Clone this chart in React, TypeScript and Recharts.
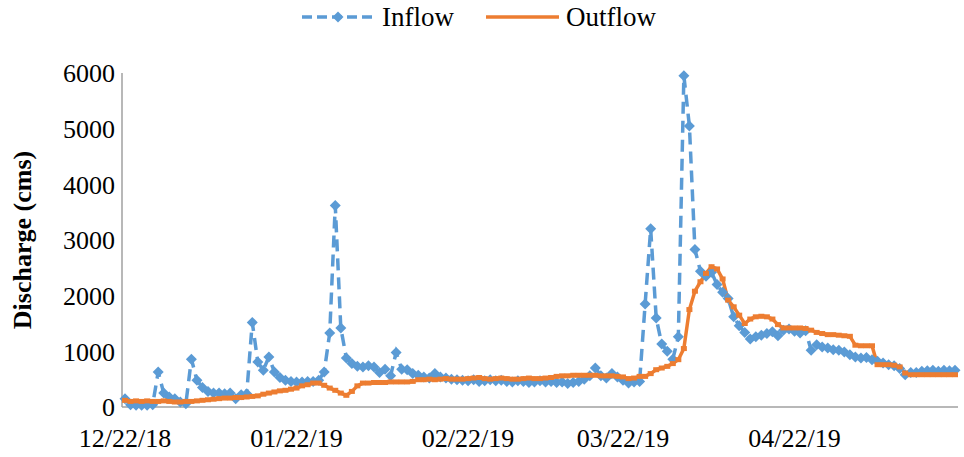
import { Line, LineChart, XAxis, YAxis, Legend } from "recharts";

const FONT = '"Liberation Serif", "Times New Roman", serif';
const BLUE = "#5B9BD5";
const ORANGE = "#ED7D31";
const AXIS_GREY = "#A0A0A0";

// daily discharge (cms), starting 12/22/18
const INFLOW = [
  150, 40, 30, 30, 30, 40, 630, 250, 180, 150, 90, 60, 860, 480, 350, 280, 250, 250, 240, 250,
  150, 220, 240, 1520, 810, 660, 900, 630, 530, 480, 460, 450, 450, 460, 460, 480, 630, 1330, 3620, 1420,
  880, 780, 730, 720, 740, 720, 620, 680, 560, 980, 680, 670, 600, 570, 540, 520, 600, 540, 520, 500,
  490, 480, 470, 490, 460, 470, 490, 470, 480, 460, 450, 470, 460, 440, 450, 470, 450, 460, 440, 450,
  420, 440, 460, 500, 560, 700, 560, 520, 600, 540, 480, 430, 450, 460, 1850, 3200, 1600, 1130, 1000, 860,
  1260, 5950, 5050, 2830, 2440, 2350, 2420, 2200, 2060, 1950, 1620, 1460, 1340, 1220, 1260, 1290, 1320, 1350, 1280, 1380,
  1400, 1360, 1330, 1370, 1020, 1120, 1080, 1060, 1030, 1020, 990, 940, 900, 880, 890, 850, 820, 790, 760, 740,
  690, 580, 620, 620, 640, 650, 660, 640, 660, 650, 660,
];

const OUTFLOW = [
  120, 100, 110, 100, 110, 100, 100, 110, 100, 90, 90, 100, 100, 110, 120, 130, 140, 150, 160, 160,
  170, 170, 180, 190, 200, 230, 250, 270, 290, 300, 320, 340, 380, 400, 430, 430, 390, 340, 300, 250,
  210, 280, 380, 430, 430, 440, 440, 440, 450, 450, 450, 450, 460, 490, 490, 500, 490, 500, 510, 500,
  500, 500, 510, 520, 530, 510, 500, 510, 520, 510, 500, 500, 510, 520, 510, 510, 520, 530, 550, 560,
  560, 570, 570, 570, 570, 570, 560, 560, 560, 550, 540, 510, 520, 550, 550, 600, 670, 700, 730, 780,
  850, 1050, 1750, 2080, 2250, 2400, 2520, 2480, 2300, 1920, 1800, 1650, 1500, 1580, 1620, 1630, 1620, 1580, 1480, 1420,
  1420, 1420, 1420, 1410, 1380, 1340, 1320, 1300, 1300, 1290, 1280, 1270, 1110, 1100, 1100, 1100, 760, 760, 760, 750,
  720, 610, 580, 580, 580, 580, 580, 580, 580, 580, 580,
];

const X_TICKS = ["12/22/18", "01/22/19", "02/22/19", "03/22/19", "04/22/19"];
const Y_TICKS = [0, 1000, 2000, 3000, 4000, 5000, 6000];

const pad = (n: number) => String(n).padStart(2, "0");
const DATES = INFLOW.map((_, i) => {
  const d = new Date(2018, 11, 22 + i);
  return `${pad(d.getMonth() + 1)}/${pad(d.getDate())}/${pad(d.getFullYear() % 100)}`;
});

const data = DATES.map((date, i) => ({ date, inflow: INFLOW[i], outflow: OUTFLOW[i] }));

function Diamond(props: any) {
  const { cx, cy, index } = props;
  if (cx == null || cy == null) return <g key={index} />;
  const r = 5.5;
  return (
    <polygon
      key={index}
      points={`${cx},${cy - r} ${cx + r},${cy} ${cx},${cy + r} ${cx - r},${cy}`}
      fill={BLUE}
    />
  );
}

function Nub(props: any) {
  const { cx, cy, index } = props;
  if (cx == null || cy == null) return <g key={index} />;
  return <rect key={index} x={cx - 3} y={cy - 2.5} width={6} height={5} fill={ORANGE} />;
}

function LegendBox() {
  return (
    <div style={{ height: 73 }}>
      <div
        style={{
          display: "flex",
          justifyContent: "center",
          alignItems: "center",
          height: 34,
          fontFamily: FONT,
          fontSize: 27,
          color: "#000",
        }}
      >
        <svg width={72} height={12} style={{ marginRight: 8 }}>
          <line x1={0} y1={6} x2={72} y2={6} stroke={BLUE} strokeWidth={3.5} strokeDasharray="10 5" />
          <polygon points="36,0.5 41.5,6 36,11.5 30.5,6" fill={BLUE} />
        </svg>
        <span>Inflow</span>
        <svg width={73} height={12} style={{ marginLeft: 32, marginRight: 7 }}>
          <line x1={0} y1={6} x2={73} y2={6} stroke={ORANGE} strokeWidth={3.5} />
        </svg>
        <span>Outflow</span>
      </div>
    </div>
  );
}

function AxisTitle(props: any) {
  const { viewBox } = props;
  const x = 22;
  const y = viewBox.y + viewBox.height / 2;
  return (
    <text
      x={x}
      y={y}
      transform={`rotate(-90, ${x}, ${y})`}
      textAnchor="middle"
      dominantBaseline="central"
      fontFamily={FONT}
      fontSize={26}
      fontWeight="bold"
      fill="#000"
    >
      Discharge (cms)
    </text>
  );
}

export default function App() {
  const tick = { fontFamily: FONT, fontSize: 26, fill: "#000" };
  return (
    <div style={{ position: "absolute", left: 0, top: 0, background: "#fff" }}>
      <LineChart width={964} height={457} data={data} margin={{ top: 0, right: 6, bottom: 0, left: 0 }}>
        <Legend verticalAlign="top" align="center" content={<LegendBox />} />
        <XAxis
          dataKey="date"
          ticks={X_TICKS}
          interval={0}
          height={50}
          padding={{ left: 3, right: 3 }}
          tickLine={false}
          tickMargin={16}
          axisLine={{ stroke: AXIS_GREY, strokeWidth: 1.5 }}
          tick={tick}
        />
        <YAxis
          width={122}
          domain={[0, 6000]}
          ticks={Y_TICKS}
          tickLine={false}
          tickMargin={1}
          axisLine={{ stroke: AXIS_GREY, strokeWidth: 1.5 }}
          tick={tick}
          label={<AxisTitle />}
        />
        <Line
          type="linear"
          dataKey="inflow"
          name="Inflow"
          stroke={BLUE}
          strokeWidth={3.5}
          strokeDasharray="12 7"
          dot={<Diamond />}
          isAnimationActive={false}
        />
        <Line
          type="linear"
          dataKey="outflow"
          name="Outflow"
          stroke={ORANGE}
          strokeWidth={3.5}
          dot={<Nub />}
          isAnimationActive={false}
        />
      </LineChart>
    </div>
  );
}
